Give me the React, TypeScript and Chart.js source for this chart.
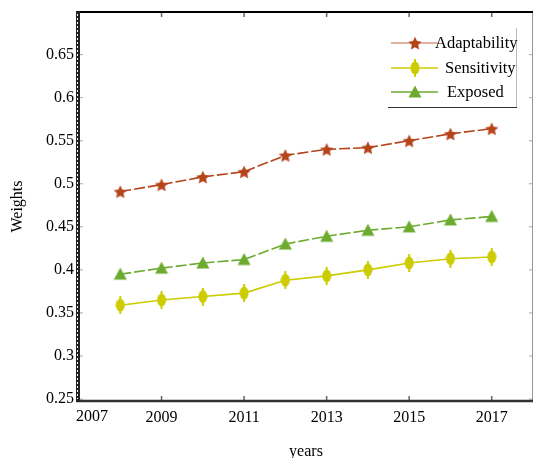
import { useEffect, useRef } from "react";
import { Chart, registerables } from "chart.js";

Chart.register(...registerables);

const years = [2008, 2009, 2010, 2011, 2012, 2013, 2014, 2015, 2016, 2017];
const adaptability = [0.491, 0.499, 0.508, 0.514, 0.533, 0.54, 0.542, 0.55, 0.558, 0.564];
const sensitivity = [0.359, 0.365, 0.369, 0.373, 0.388, 0.393, 0.4, 0.408, 0.413, 0.415];
const exposed = [0.395, 0.402, 0.408, 0.412, 0.43, 0.439, 0.446, 0.45, 0.458, 0.462];
const xTicks = [2007, 2009, 2011, 2013, 2015, 2017];
const yTicks = [0.25, 0.3, 0.35, 0.4, 0.45, 0.5, 0.55, 0.6, 0.65];
const seriesNames = ["Adaptability", "Sensitivity", "Exposed"];
const seriesColors = ["#b5441a", "#cccc00", "#6cab2e"];

const FONT = "'Liberation Serif', 'Times New Roman', serif";

function makeStar(color: string, r: number) {
  const s = Math.ceil(r * 2 + 2);
  const c = document.createElement("canvas");
  c.width = s;
  c.height = s;
  const g = c.getContext("2d")!;
  g.fillStyle = color;
  g.beginPath();
  for (let i = 0; i < 10; i++) {
    const rad = i % 2 === 0 ? r : r * 0.48;
    const a = -Math.PI / 2 + (i * Math.PI) / 5;
    const x = s / 2 + rad * Math.cos(a);
    const y = s / 2 + 0.8 + rad * Math.sin(a);
    if (i) g.lineTo(x, y);
    else g.moveTo(x, y);
  }
  g.closePath();
  g.fill();
  return c;
}

function makeDiamond(color: string) {
  const w = 10, h = 18;
  const c = document.createElement("canvas");
  c.width = w;
  c.height = h;
  const g = c.getContext("2d")!;
  g.fillStyle = color;
  g.beginPath();
  g.ellipse(w / 2, h / 2, 4.5, 6.5, 0, 0, Math.PI * 2);
  g.fill();
  g.fillRect(w / 2 - 1, 0, 2, h);
  return c;
}

function makeTriangle(color: string) {
  const w = 14, h = 14;
  const c = document.createElement("canvas");
  c.width = w;
  c.height = h;
  const g = c.getContext("2d")!;
  g.fillStyle = color;
  g.beginPath();
  g.moveTo(w / 2, 0.5);
  g.lineTo(w - 0.5, h - 1.5);
  g.lineTo(0.5, h - 1.5);
  g.closePath();
  g.fill();
  return c;
}

export default function App() {
  const ref = useRef<HTMLCanvasElement | null>(null);

  useEffect(() => {
    document.body.style.margin = "0";
    const canvas = ref.current!;
    const markers = [
      makeStar(seriesColors[0], 7),
      makeDiamond(seriesColors[1]),
      makeTriangle(seriesColors[2]),
    ];
    const values = [adaptability, sensitivity, exposed];
    const dashes = [[11, 3], [], [11, 3]];

    const framePlugin = {
      id: "frame",
      beforeDatasetsDraw(chart: any) {
        const { ctx, chartArea } = chart;
        const { left, right, top, bottom } = chartArea;
        const xs = chart.scales.x;
        const ys = chart.scales.y;
        ctx.save();
        // first x label, set inward as in the reference
        ctx.font = `16px ${FONT}`;
        ctx.fillStyle = "#000";
        ctx.textAlign = "center";
        ctx.textBaseline = "top";
        ctx.fillText(String(xTicks[0]), xs.getPixelForValue(xTicks[0]) + 13, bottom + 8);
        // inner ticks
        ctx.strokeStyle = "#666";
        ctx.lineWidth = 1.5;
        xTicks.forEach((v) => {
          const px = xs.getPixelForValue(v);
          ctx.beginPath();
          ctx.moveTo(px, bottom);
          ctx.lineTo(px, bottom - 5);
          ctx.moveTo(px, top);
          ctx.lineTo(px, top + 5);
          ctx.stroke();
        });
        ctx.strokeStyle = "#aaa";
        ctx.lineWidth = 1;
        yTicks.forEach((v) => {
          const py = ys.getPixelForValue(v);
          ctx.beginPath();
          ctx.moveTo(left, py);
          ctx.lineTo(left + 4, py);
          ctx.moveTo(right, py);
          ctx.lineTo(right - 4, py);
          ctx.stroke();
        });
        // right border
        ctx.strokeStyle = "#999";
        ctx.lineWidth = 1;
        ctx.beginPath();
        ctx.moveTo(right - 0.5, top);
        ctx.lineTo(right - 0.5, bottom);
        ctx.stroke();
        // top border
        ctx.strokeStyle = "#000";
        ctx.lineWidth = 2;
        ctx.beginPath();
        ctx.moveTo(left, top);
        ctx.lineTo(right, top);
        ctx.stroke();
        // bottom border
        ctx.strokeStyle = "#333";
        ctx.lineWidth = 2.5;
        ctx.beginPath();
        ctx.moveTo(left - 3, bottom);
        ctx.lineTo(right, bottom);
        ctx.stroke();
        // left border
        ctx.fillStyle = "#222";
        ctx.fillRect(left - 3, top - 1, 4, bottom - top + 2);
        ctx.strokeStyle = "#fff";
        ctx.lineWidth = 1;
        ctx.setLineDash([2, 2]);
        ctx.beginPath();
        ctx.moveTo(left - 1.5, top + 2);
        ctx.lineTo(left - 1.5, bottom - 2);
        ctx.stroke();
        ctx.restore();
      },
      afterDraw(chart: any) {
        const { ctx } = chart;
        ctx.save();
        // legend box
        ctx.strokeStyle = "#bbb";
        ctx.lineWidth = 1;
        ctx.beginPath();
        ctx.moveTo(516.5, 28);
        ctx.lineTo(516.5, 108);
        ctx.stroke();
        ctx.strokeStyle = "#333";
        ctx.lineWidth = 1.2;
        ctx.beginPath();
        ctx.moveTo(388, 107.5);
        ctx.lineTo(517, 107.5);
        ctx.stroke();
        ctx.font = `16.5px ${FONT}`;
        ctx.textBaseline = "middle";
        ctx.textAlign = "left";
        const rows = [43, 68, 92];
        const textX = [435, 445, 447];
        seriesNames.forEach((name, i) => {
          const y = rows[i];
          ctx.strokeStyle = seriesColors[i];
          ctx.globalAlpha = i === 0 ? 0.55 : 1;
          ctx.lineWidth = 1.5;
          ctx.beginPath();
          ctx.moveTo(391, y);
          ctx.lineTo(438, y);
          ctx.stroke();
          ctx.globalAlpha = 1;
          const m = markers[i];
          ctx.drawImage(m, 415 - m.width / 2, y - m.height / 2);
          ctx.fillStyle = "#000";
          ctx.fillText(name, textX[i], y + 1);
        });
        ctx.restore();
      },
    };

    const chart = new Chart(canvas, {
      type: "line",
      data: {
        datasets: seriesNames.map((name, i) => ({
          label: name,
          data: years.map((yr, j) => ({ x: yr, y: values[i][j] })),
          borderColor: seriesColors[i],
          backgroundColor: seriesColors[i],
          borderWidth: 1.6,
          borderDash: dashes[i],
          pointStyle: markers[i] as any,
          pointRadius: 7,
          tension: 0,
          fill: false,
        })),
      },
      options: {
        animation: false,
        responsive: false,
        maintainAspectRatio: false,
        layout: { autoPadding: false, padding: { top: 12, right: 2, left: 0, bottom: 0 } },
        plugins: {
          legend: { display: false },
          tooltip: { enabled: false },
        },
        scales: {
          x: {
            type: "linear",
            min: 2007,
            max: 2018,
            grid: { display: false, drawTicks: false },
            border: { display: false },
            afterBuildTicks: (s: any) => {
              s.ticks = xTicks.map((v) => ({ value: v }));
            },
            afterFit: (s: any) => {
              s.height = 57;
              s.paddingLeft = 0;
              s.paddingRight = 0;
            },
            ticks: {
              color: "#000",
              font: { family: FONT, size: 16 },
              padding: 7,
              maxRotation: 0,
              callback: (v: any) => (Number(v) === xTicks[0] ? "" : String(v)),
            },
            title: {
              display: true,
              text: "years",
              color: "#000",
              font: { family: FONT, size: 16 },
              padding: { top: 0, bottom: -3 },
            },
          },
          y: {
            type: "linear",
            min: 0.2477,
            max: 0.6995,
            grid: { display: false, drawTicks: false },
            border: { display: false },
            afterBuildTicks: (s: any) => {
              s.ticks = yTicks.map((v) => ({ value: v }));
            },
            afterFit: (s: any) => {
              s.width = 79;
              s.paddingTop = 0;
              s.paddingBottom = 0;
            },
            ticks: {
              color: "#000",
              font: { family: FONT, size: 16 },
              padding: 5,
              callback: (v: any) => String(Number(Number(v).toFixed(2))),
            },
            title: {
              display: true,
              text: "Weights",
              color: "#000",
              font: { family: FONT, size: 16 },
              padding: { top: 8, bottom: 0 },
            },
          },
        },
      },
      plugins: [framePlugin],
    });
    return () => chart.destroy();
  }, []);

  return <canvas ref={ref} width={535} height={458} style={{ display: "block" }} />;
}
